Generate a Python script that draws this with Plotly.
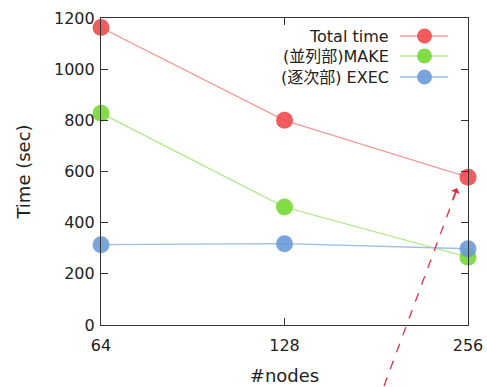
import plotly.graph_objects as go

nodes = ["64", "128", "256"]
total_time = [1163, 800, 578]
make_time = [828, 461, 265]
exec_time = [314, 318, 298]
series_names = ["Total time", "(並列部)MAKE", "(逐次部) EXEC"]
marker_colors = ["#ef4b4b", "#77d934", "#6b9ad8"]
line_colors = ["#f29a9a", "#b5e98f", "#9dbde6"]

FONT = "DejaVu Sans, Noto Sans CJK JP, sans-serif"

fig = go.Figure()
for vals, name, mc, lc in zip([total_time, make_time, exec_time], series_names, marker_colors, line_colors):
    fig.add_trace(go.Scatter(
        x=nodes, y=vals, name=name, mode="lines+markers",
        line=dict(color=lc, width=1.3),
        marker=dict(color=mc, size=17, opacity=0.9),
        cliponaxis=False, showlegend=False,
    ))

# custom legend (text left of symbol)
W, H = 487, 387
L, R, T, B = 101, 19, 18, 62
pw, ph = W - L - R, H - T - B
def px(x):
    return (x - L) / pw
def py(y):
    return (H - B - y) / ph

leg_rows = [36, 56, 77]
for name, mc, lc, yy in zip(series_names, marker_colors, line_colors, leg_rows):
    fig.add_annotation(x=px(391), y=py(yy), xref="paper", yref="paper", text=name,
                       showarrow=False, xanchor="right", yanchor="middle",
                       font=dict(family=FONT, size=16, color="#222"))
    fig.add_shape(type="line", xref="paper", yref="paper", x0=px(400), x1=px(448),
                  y0=py(yy), y1=py(yy), line=dict(color=lc, width=1.3))
    fig.add_shape(type="circle", xref="paper", yref="paper", x0=px(417), x1=px(432),
                  y0=py(yy + 7.5), y1=py(yy - 7.5), fillcolor=mc, line=dict(width=0), opacity=0.9)

# dashed arrow
fig.add_shape(type="line", xref="paper", yref="paper", x0=px(384), y0=py(386),
              x1=px(456), y1=py(192), line=dict(color="#e03040", width=1.3, dash="dash"))
fig.add_annotation(x=px(457), y=py(188), ax=-5, ay=13, xref="paper", yref="paper",
                   axref="pixel", ayref="pixel", text="", showarrow=True, arrowhead=1,
                   arrowsize=1.2, arrowwidth=1.3, arrowcolor="#e03040")

axis_common = dict(showline=True, linecolor="#333", linewidth=1.2, mirror="ticks",
                   ticks="inside", ticklen=7, tickcolor="#333", showgrid=False, zeroline=False,
                   automargin=False,
                   tickfont=dict(family=FONT, size=16, color="#222"))
fig.update_xaxes(type="category", range=[0, 2], ticklabelstandoff=6,
                 title=dict(text="#nodes", font=dict(family=FONT, size=18, color="#222"), standoff=15),
                 **axis_common)
fig.update_yaxes(range=[0, 1200], dtick=200, ticklabelstandoff=2,
                 title=dict(text="Time (sec)", font=dict(family=FONT, size=18, color="#222"), standoff=18),
                 **axis_common)
fig.update_layout(width=W, height=H, margin=dict(l=L, r=R, t=T, b=B),
                  plot_bgcolor="white", paper_bgcolor="white", showlegend=False,
                  font=dict(family=FONT))
fig.write_html("out.html", config={"displayModeBar": False},
               post_script="document.body.style.margin='0px';document.body.style.overflow='hidden';")
